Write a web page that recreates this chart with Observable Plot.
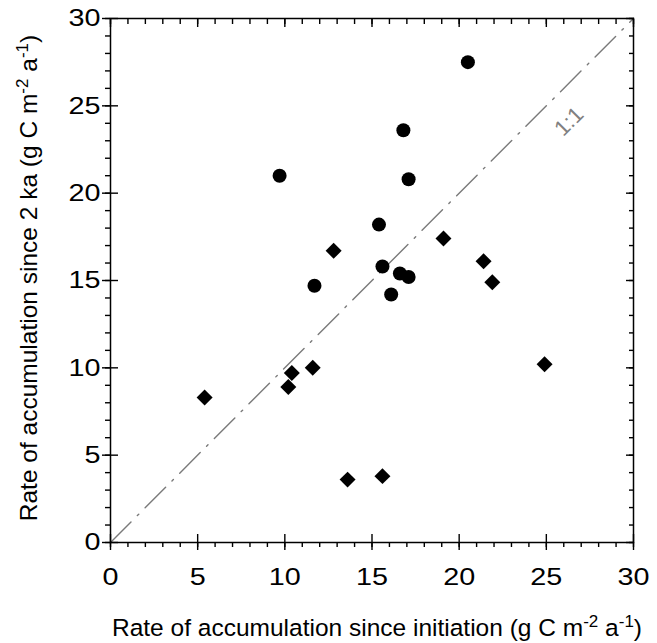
<!DOCTYPE html>
<html><head><meta charset="utf-8">
<script src="https://cdn.jsdelivr.net/npm/d3@7"></script>
<script src="https://cdn.jsdelivr.net/npm/@observablehq/plot@0.6"></script>
<style>body{margin:0;background:#fff}</style>
</head><body><div id="chart"></div>
<script>
// Circles (series 1)
const circleX = [9.7, 17.1, 15.4, 11.7, 15.6, 16.6, 17.1, 16.1, 20.5, 16.8];
const circleY = [21.0, 20.8, 18.2, 14.7, 15.8, 15.4, 15.2, 14.2, 27.5, 23.6];
// Diamonds (series 2)
const diamondX = [12.8, 19.1, 21.4, 21.9, 24.9, 5.4, 10.4, 10.2, 11.6, 13.6, 15.6];
const diamondY = [16.7, 17.4, 16.1, 14.9, 10.2, 8.3, 9.7, 8.9, 10.0, 3.6, 3.8];
// 1:1 line
const oneToOne = [0, 30];
const oneLabel = {x: 26.3, y: 24.1, text: "1:1"};
// ticks
const majorTicks = [0, 5, 10, 15, 20, 25, 30];
const minorTicks = d3.range(0, 31, 1);

const circles = circleX.map((x, i) => ({x, y: circleY[i]}));
const diamonds = diamondX.map((x, i) => ({x, y: diamondY[i]}));
const lineData = oneToOne.map(v => ({x: v, y: v}));

const font = "'Liberation Sans', Arial, sans-serif";
const noText = {text: null, label: null};

const svg = Plot.plot({
  width: 657, height: 643,
  marginLeft: 110, marginRight: 24, marginTop: 18, marginBottom: 101,
  style: {fontFamily: font, background: "white", color: "black"},
  x: {domain: [0, 30]},
  y: {domain: [0, 30]},
  marks: [
    Plot.line(lineData, {x: "x", y: "y", stroke: "#7a7a7a", strokeWidth: 1.4, strokeDasharray: "29,9,2,9"}),
    Plot.text([oneLabel], {x: "x", y: "y", text: "text", rotate: -45, fill: "#808080", fontSize: 22}),
    Plot.dot(circles, {x: "x", y: "y", symbol: "circle", r: 7, fill: "black", stroke: "none"}),
    Plot.dot(diamonds, {x: "x", y: "y", symbol: "diamond2", r: 7.2, fill: "black", stroke: "none"}),
    // bottom axis
    Plot.axisX({anchor: "bottom", ticks: majorTicks, tickSize: 8, tickPadding: 17, fontSize: 24, label: null, strokeWidth: 1.4}),
    Plot.axisX({anchor: "bottom", ticks: majorTicks, tickSize: -8, strokeWidth: 1.4, ...noText}),
    Plot.axisX({anchor: "bottom", ticks: minorTicks, tickSize: 5, strokeWidth: 1.4, ...noText}),
    // top axis
    Plot.axisX({anchor: "top", ticks: majorTicks, tickSize: -8, strokeWidth: 1.4, ...noText}),
    Plot.axisX({anchor: "top", ticks: minorTicks, tickSize: -5, strokeWidth: 1.4, ...noText}),
    // left axis
    Plot.axisY({anchor: "left", ticks: majorTicks, tickSize: 8, tickPadding: 2, fontSize: 24, label: null, strokeWidth: 1.4}),
    Plot.axisY({anchor: "left", ticks: majorTicks, tickSize: -8, strokeWidth: 1.4, ...noText}),
    Plot.axisY({anchor: "left", ticks: minorTicks, tickSize: 5, strokeWidth: 1.4, ...noText}),
    // right axis
    Plot.axisY({anchor: "right", ticks: majorTicks, tickSize: -8, strokeWidth: 1.4, ...noText}),
    Plot.axisY({anchor: "right", ticks: minorTicks, tickSize: -5, strokeWidth: 1.4, ...noText}),
    Plot.frame({stroke: "black", strokeWidth: 1.5})
  ]
});

const s = d3.select(svg);

function addLabel(g, main, attrs) {
  const t = g.append("text").attr("font-family", font).style("font-size", "24.5px").attr("fill", "black");
  for (const [k, v] of Object.entries(attrs)) t.attr(k, v);
  t.append("tspan").text(main + " (g C m");
  t.append("tspan").attr("dy", -9).style("font-size", "17px").text("-2");
  t.append("tspan").attr("dy", 9).text(" a");
  t.append("tspan").attr("dy", -9).style("font-size", "17px").text("-1");
  t.append("tspan").attr("dy", 9).text(")");
  return t;
}
addLabel(s, "Rate of accumulation since initiation", {x: 377, y: 636, "text-anchor": "middle"});
addLabel(s, "Rate of accumulation since 2 ka", {transform: "translate(37,278) rotate(-90)", "text-anchor": "middle"});

document.getElementById("chart").append(svg);

// widen tick labels horizontally to match the reference's wide digits
s.selectAll('g[aria-label$="tick label"] text').each(function() {
  const w = this.getComputedTextLength();
  if (w > 0) {
    this.setAttribute("textLength", (w * 1.2).toFixed(1));
    this.setAttribute("lengthAdjust", "spacingAndGlyphs");
  }
});
</script>
</body></html>
